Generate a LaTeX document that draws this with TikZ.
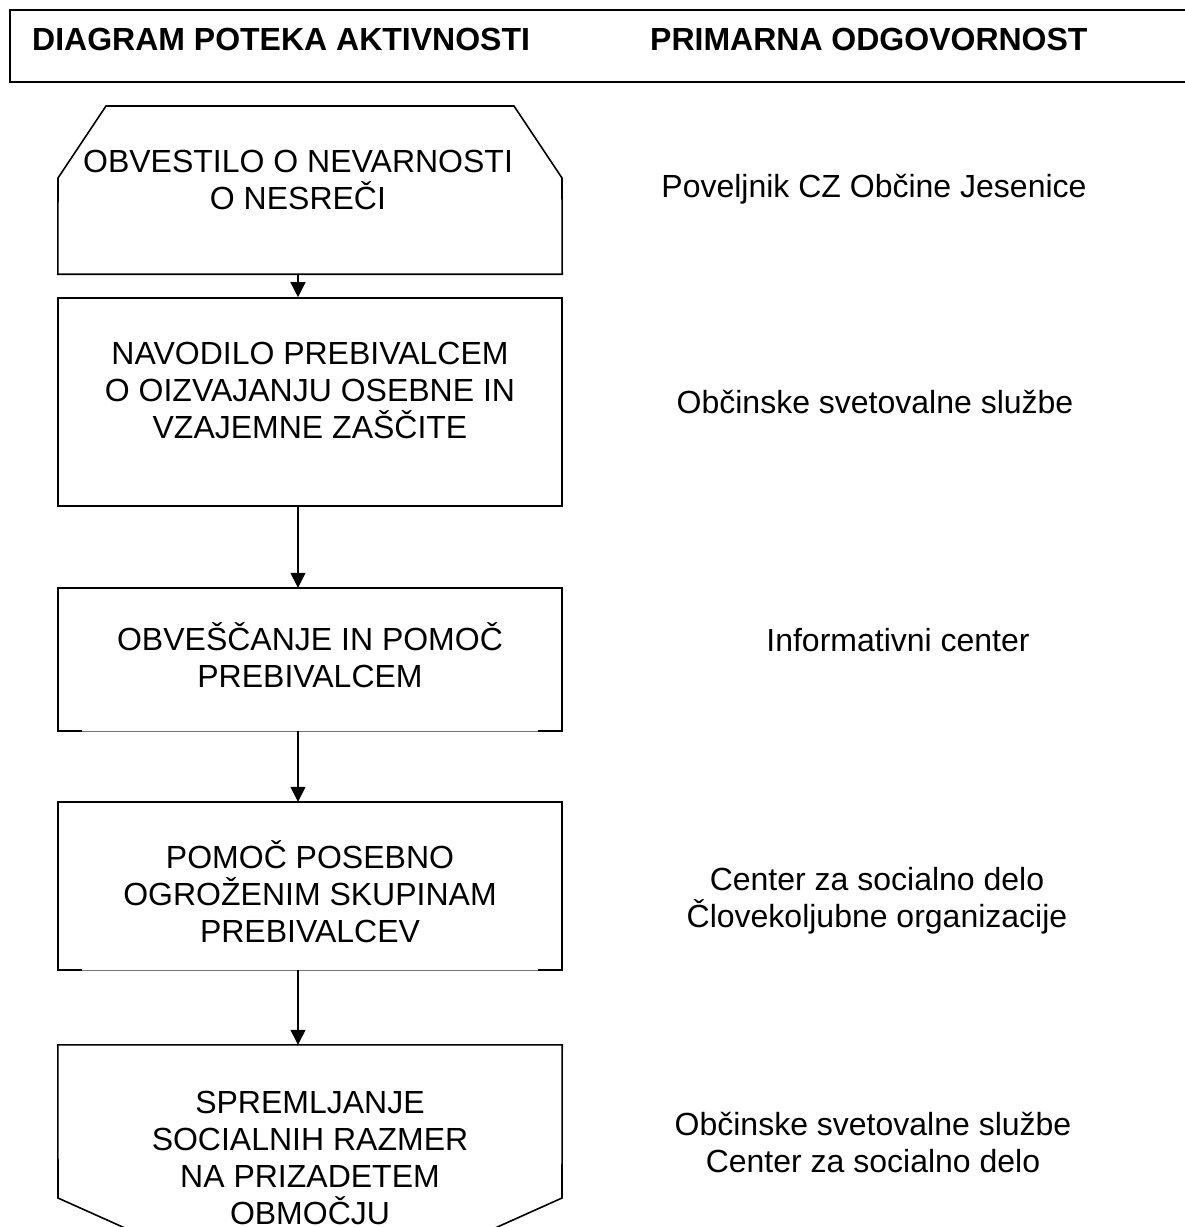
\documentclass[tikz,border=0pt]{standalone}
\usepackage{fontspec}
\setmainfont{Liberation Sans}
\usetikzlibrary{arrows.meta}
\begin{document}
\begin{tikzpicture}[x=1pt,y=-1pt,
  boxtext/.style={align=center,inner sep=0pt,font=\fontsize{32}{37}\selectfont},
  hdrtext/.style={inner sep=0pt,font=\fontsize{32}{38}\selectfont\bfseries},
  resp/.style={align=center,inner sep=0pt,font=\fontsize{32}{37}\selectfont},
  stepbox/.style={draw,line width=1.6pt,minimum width=504pt,inner sep=0pt},
  framebox/.style={draw=none,minimum width=504pt,inner sep=0pt},
  outline/.style={line width=1.6pt,line join=miter},
  thinbottom/.style={line width=1pt,draw=black!55},
  arr/.style={line width=1.3pt,-{Triangle[length=15pt,width=15pt]}}
]
\useasboundingbox (0,0) rectangle (1185,1227);
% header
\draw[line width=2pt] (1200,10) -- (10,10) -- (10,82) -- (1200,82);
\node[hdrtext,anchor=base west] (h1) at (32,50) {DIAGRAM POTEKA AKTIVNOSTI};
\node[hdrtext,anchor=base west] (h2) at (650,50) {PRIMARNA ODGOVORNOST};

% box 1 (cut top corners)
\node[framebox,minimum height=168pt] (b1) at (310,190) {};
\draw[outline] (b1.south west) -- (58,178) -- (106,106) -- (514,106) -- (562,178) -- (b1.south east) -- cycle;
\node[boxtext] (t1) at (298,180) {OBVESTILO O NEVARNOSTI\\O NESREČI};

% box 2
\node[stepbox,minimum height=208pt] (b2) at (310,402) {};
\node[boxtext] (t2) at (310,390) {NAVODILO PREBIVALCEM\\O OIZVAJANJU OSEBNE IN\\VZAJEMNE ZAŠČITE};

% box 3
\node[framebox,minimum height=143pt] (b3) at (310,659.5) {};
\draw[outline] ([xshift=24pt]b3.south west) -- (b3.south west) -- (b3.north west) -- (b3.north east) -- (b3.south east) -- ([xshift=-24pt]b3.south east);
\draw[thinbottom] ([xshift=24pt]b3.south west) -- ([xshift=-24pt]b3.south east);
\node[boxtext] (t3) at (310,655) {OBVEŠČANJE IN POMOČ\\PREBIVALCEM};

% box 4
\node[framebox,minimum height=168pt] (b4) at (310,886) {};
\draw[outline] ([xshift=24pt]b4.south west) -- (b4.south west) -- (b4.north west) -- (b4.north east) -- (b4.south east) -- ([xshift=-24pt]b4.south east);
\draw[thinbottom] ([xshift=24pt]b4.south west) -- ([xshift=-24pt]b4.south east);
\node[boxtext] (t4) at (310,892) {POMOČ POSEBNO\\OGROŽENIM SKUPINAM\\PREBIVALCEV};

% box 5 (pointed bottom, cut by page)
\node[framebox,minimum height=152pt] (b5) at (310,1121) {};
\draw[outline] (b5.north west) -- (b5.north east) -- (562,1198) -- (310,1311) -- (58,1198) -- cycle;
\node[boxtext] (t5) at (310,1158) {SPREMLJANJE\\SOCIALNIH RAZMER\\NA PRIZADETEM\\OBMOČJU};

% connectors
\draw[arr] (b1.south -| t1) -- (b2.north -| t1);
\draw[arr] (b2.south -| t1) -- (b3.north -| t1);
\draw[arr] (b3.south -| t1) -- (b4.north -| t1);
\draw[arr] (b4.south -| t1) -- (b5.north -| t1);

% responsibilities
\node[resp] (r1) at (874,189) {Poveljnik CZ Občine Jesenice};
\node[resp] (r2) at (875,402) {Občinske svetovalne službe};
\node[resp] (r3) at (898,640) {Informativni center};
\node[resp] (r4) at (877,901) {Center za socialno delo\\Človekoljubne organizacije};
\node[resp] (r5) at (873,1142) {Občinske svetovalne službe\\Center za socialno delo};
\end{tikzpicture}
\end{document}
